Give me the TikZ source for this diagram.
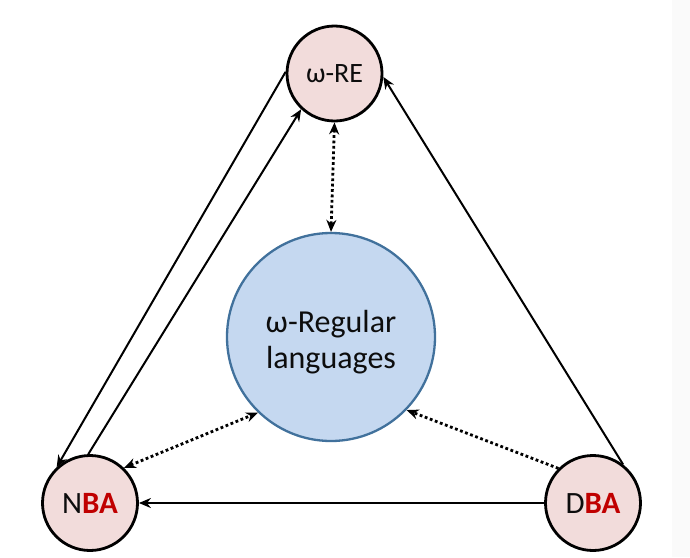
\documentclass[tikz,border=0pt]{standalone}
\usepackage{fontspec}
\setmainfont{Carlito}
\usetikzlibrary{arrows.meta}
\definecolor{pinkfill}{RGB}{242,220,219}
\definecolor{bluefill}{RGB}{197,216,240}
\definecolor{blueline}{RGB}{65,113,156}
\definecolor{darkred}{RGB}{192,0,0}
\definecolor{txt}{RGB}{13,13,13}
\tikzset{
  small/.style={circle, draw=black, line width=2.8pt, fill=pinkfill, minimum size=95pt, inner sep=0pt, text=txt},
  big/.style={circle, draw=blueline, line width=2.3pt, fill=bluefill, minimum size=208pt, inner sep=0pt, align=center, text=txt, font=\fontsize{32}{36}\selectfont},
  solidarr/.style={line width=2pt, -{Stealth[length=12pt,width=10pt]}},
  dotarr/.style={line width=2.8pt, dash pattern=on 2.8pt off 2.6pt, -{Stealth[length=12pt,width=10pt]}},
  dotarr2/.style={line width=2.8pt, dash pattern=on 2.8pt off 2.6pt, {Stealth[length=12pt,width=10pt]}-{Stealth[length=12pt,width=10pt]}},
}
\begin{document}
\begin{tikzpicture}[x=1pt,y=-1pt]
\useasboundingbox (0,0) rectangle (690,557);
\fill[black!2] (672,0) rectangle (690,557);
\node[small, font=\fontsize{28}{30}\selectfont] (re) at (334.5,73.5) {ω-RE};
\node[small, font=\fontsize{31}{34}\selectfont] (nba) at (90,503) {N\textcolor{darkred}{\textbf{BA}}};
\node[small, font=\fontsize{31}{34}\selectfont] (dba) at (593,503) {D\textcolor{darkred}{\textbf{BA}}};
\node[big] (reg) at (331,337) {\rule{0pt}{33pt}ω-Regular\\languages};
\draw[solidarr] (re.178) -- (nba.133);
\draw[solidarr] (nba.92) -- (re.227);
\draw[solidarr] (dba.52) -- (re.356);
\draw[solidarr] (dba.west) -- (nba.east);
\draw[dotarr2] (re.south) -- (reg.north);
\draw[dotarr2] (nba.46) -- (reg.226);
\draw[dotarr] (dba.135) -- (reg.316);
\end{tikzpicture}
\end{document}
